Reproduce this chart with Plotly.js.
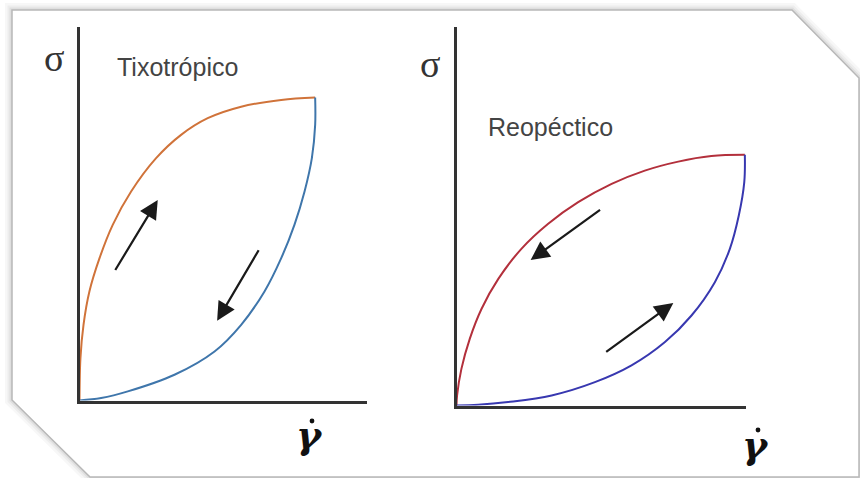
<!DOCTYPE html>
<html>
<head>
<meta charset="utf-8">
<script src="https://cdn.plot.ly/plotly-3.0.1.min.js"></script>
<style>html,body{margin:0;padding:0;background:#fff;}#chart{width:860px;height:478px;}</style>
</head>
<body>
<div id="chart"></div>
<script>
// Thixotropic loop (panel 1): shear rate vs stress
const tixoShearUp    = [0, 0.04, 0.17, 0.42, 0.85, 1.41, 2.19, 3.25, 4.31, 5.44, 6.86, 8.56, 10];
const tixoStressUp   = [0, 1.40, 2.50, 3.60, 4.70, 5.80, 6.90, 8.00, 8.77, 9.32, 9.70, 9.92, 10];
const tixoShearDown  = [10, 10, 9.86, 9.55, 9.12, 8.56, 7.85, 6.86, 5.73, 4.03, 2.05, 0.92, 0];
const tixoStressDown = [10, 9.10, 8.00, 6.90, 5.80, 4.70, 3.60, 2.50, 1.62, 0.85, 0.30, 0.08, 0];
// Rheopectic loop (panel 2)
const reoShearUpper  = [10, 8.84, 7.69, 6.53, 5.38, 4.22, 3.18, 2.25, 1.45, 0.87, 0.46, 0.17, 0.02, 0];
const reoStressUpper = [10, 9.95, 9.73, 9.37, 8.84, 8.11, 7.25, 6.25, 5.05, 3.86, 2.66, 1.46, 0.40, 0];
const reoShearLower  = [0, 0.75, 1.79, 3.30, 4.80, 6.07, 7.23, 8.15, 8.96, 9.48, 9.79, 9.98, 10];
const reoStressLower = [0, 0.03, 0.14, 0.40, 0.93, 1.60, 2.53, 3.59, 4.92, 6.25, 7.58, 8.91, 10];
// Direction arrows: [tailX, tailY, tipX, tipY] in data units
const tixoArrowUp    = [1.48, 4.26, 3.32, 6.62];
const tixoArrowDown  = [7.64, 5.01, 5.84, 2.63];
const reoArrowDown   = [5.03, 7.85, 2.57, 5.80];
const reoArrowUp     = [5.14, 2.10, 7.52, 4.09];
// Labels
const panelTitles = ['Tixotrópico', 'Reopéctico'];
const stressLabel = 'σ';
const shearLabel = 'γ';

const W = 860, H = 478;
const px = x => x / W;
const py = y => 1 - y / H;

const traces = [
  {x: tixoShearUp, y: tixoStressUp, xaxis: 'x', yaxis: 'y', mode: 'lines',
   line: {color: '#d0733a', width: 2, shape: 'spline', smoothing: 1}},
  {x: tixoShearDown, y: tixoStressDown, xaxis: 'x', yaxis: 'y', mode: 'lines',
   line: {color: '#3f76ab', width: 2, shape: 'spline', smoothing: 1}},
  {x: reoShearUpper, y: reoStressUpper, xaxis: 'x2', yaxis: 'y2', mode: 'lines',
   line: {color: '#b3303c', width: 2, shape: 'spline', smoothing: 1}},
  {x: reoShearLower, y: reoStressLower, xaxis: 'x2', yaxis: 'y2', mode: 'lines',
   line: {color: '#3838b0', width: 2, shape: 'spline', smoothing: 1}}
];

function axisBase() {
  return {showgrid: false, zeroline: false, showticklabels: false, ticks: '',
          showline: true, linecolor: '#333', linewidth: 3, fixedrange: true};
}

function arrow(a, xr, yr) {
  return {x: a[2], y: a[3], ax: a[0], ay: a[1], xref: xr, yref: yr, axref: xr, ayref: yr,
          showarrow: true, arrowhead: 2, arrowsize: 1.7, arrowwidth: 2.2, arrowcolor: '#1a1a1a', text: ''};
}

// Frame with cut corners
const framePts = [[12,10],[792,10],[859,78],[859,477],[90,477],[12,400]];
const framePath = 'M ' + framePts.map(p => px(p[0]) + ',' + py(p[1])).join(' L ') + ' Z';

function dot(x, y, r) {
  return {type: 'circle', xref: 'paper', yref: 'paper', x0: px(x - r), x1: px(x + r), y0: py(y + r), y1: py(y - r),
          fillcolor: '#111', line: {width: 0}, layer: 'above'};
}

const shapes = [
  {type: 'path', path: framePath, xref: 'paper', yref: 'paper', layer: 'below', line: {color: 'rgba(0,0,0,0.03)', width: 14}},
  {type: 'path', path: framePath, xref: 'paper', yref: 'paper', layer: 'below', line: {color: 'rgba(0,0,0,0.04)', width: 9}},
  {type: 'path', path: framePath, xref: 'paper', yref: 'paper', layer: 'below', line: {color: 'rgba(0,0,0,0.06)', width: 5}},
  {type: 'path', path: framePath, xref: 'paper', yref: 'paper', layer: 'below', fillcolor: '#ffffff', line: {color: '#b8b8b8', width: 1.5}},
  dot(312, 421, 2.4),
  dot(758, 430, 2.4)
];

const serif = 'Liberation Serif, Times New Roman, serif';
const sans = 'Liberation Sans, Arial, sans-serif';
const gammaFont = 'DejaVu Serif, serif';

function label(text, x, y, font, xanchor) {
  return {text: text, x: px(x), y: py(y), xref: 'paper', yref: 'paper', showarrow: false,
          xanchor: xanchor || 'center', yanchor: 'middle', font: font};
}

const annotations = [
  arrow(tixoArrowUp, 'x', 'y'), arrow(tixoArrowDown, 'x', 'y'),
  arrow(reoArrowDown, 'x2', 'y2'), arrow(reoArrowUp, 'x2', 'y2'),
  label(stressLabel, 54, 58, {family: serif, size: 38, color: '#333'}),
  label(stressLabel, 430, 64, {family: serif, size: 38, color: '#333'}),
  label(panelTitles[0], 115, 67, {family: sans, size: 25, color: '#444'}, 'left'),
  label(panelTitles[1], 486, 127, {family: sans, size: 25, color: '#444'}, 'left'),
  label('<b><i>' + shearLabel + '</i></b>', 309, 434, {family: gammaFont, size: 38, color: '#111'}),
  label('<b><i>' + shearLabel + '</i></b>', 755, 444, {family: gammaFont, size: 38, color: '#111'})
];

const layout = {
  width: W, height: H,
  margin: {l: 0, r: 0, t: 0, b: 0, pad: 0},
  paper_bgcolor: '#ffffff', plot_bgcolor: 'rgba(0,0,0,0)',
  showlegend: false,
  xaxis: Object.assign(axisBase(), {domain: [px(79.5), px(367)], range: [0, 12.20], anchor: 'y'}),
  yaxis: Object.assign(axisBase(), {domain: [py(400.5), py(27)], range: [0, 12.33], anchor: 'x'}),
  xaxis2: Object.assign(axisBase(), {domain: [px(456.5), px(746)], range: [0, 10.04], anchor: 'y2'}),
  yaxis2: Object.assign(axisBase(), {domain: [py(405.5), py(27)], range: [0, 15.10], anchor: 'x2'}),
  shapes: shapes,
  annotations: annotations
};

Plotly.newPlot('chart', traces, layout, {displayModeBar: false, staticPlot: true});
</script>
</body>
</html>
